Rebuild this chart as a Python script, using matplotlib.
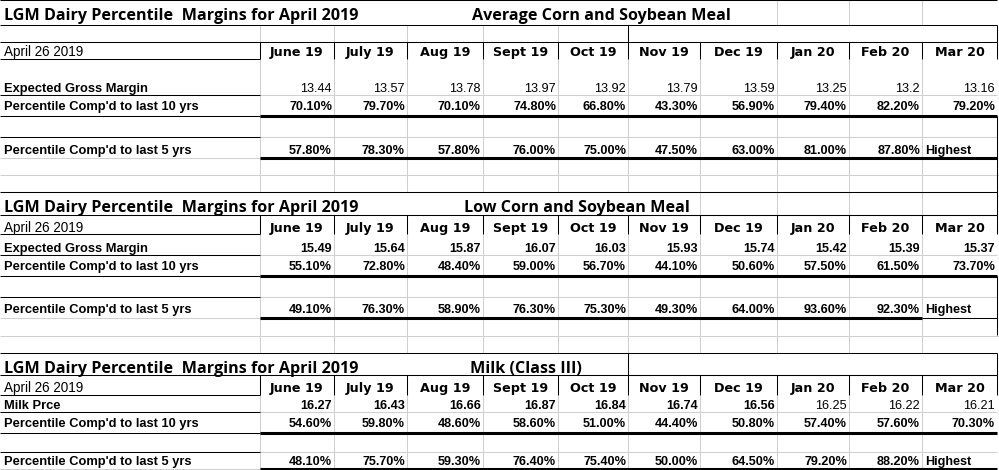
import matplotlib.pyplot as plt

# ---- table values ----
months = ['June 19', 'July 19', 'Aug 19', 'Sept 19', 'Oct 19',
          'Nov 19', 'Dec 19', 'Jan 20', 'Feb 20', 'Mar 20']

avg_margin = [13.44, 13.57, 13.78, 13.97, 13.92, 13.79, 13.59, 13.25, 13.2, 13.16]
avg_pct10 = [70.1, 79.7, 70.1, 74.8, 66.8, 43.3, 56.9, 79.4, 82.2, 79.2]
avg_pct5 = [57.8, 78.3, 57.8, 76.0, 75.0, 47.5, 63.0, 81.0, 87.8]

low_margin = [15.49, 15.64, 15.87, 16.07, 16.03, 15.93, 15.74, 15.42, 15.39, 15.37]
low_pct10 = [55.1, 72.8, 48.4, 59.0, 56.7, 44.1, 50.6, 57.5, 61.5, 73.7]
low_pct5 = [49.1, 76.3, 58.9, 76.3, 75.3, 49.3, 64.0, 93.6, 92.3]

milk_price = [16.27, 16.43, 16.66, 16.87, 16.84, 16.74, 16.56, 16.25, 16.22, 16.21]
milk_pct10 = [54.6, 59.8, 48.6, 58.6, 51.0, 44.4, 50.8, 57.4, 57.6, 70.3]
milk_pct5 = [48.1, 75.7, 59.3, 76.4, 75.4, 50.0, 64.5, 79.2, 88.2]

title = 'LGM Dairy Percentile  Margins for April 2019'
date_label = 'April 26 2019'
pct10_label = "Percentile Comp'd to last 10 yrs"
pct5_label = "Percentile Comp'd to last 5 yrs"
last_note = 'Highest'

# ---- sheet layout (pixels) ----
W, H = 999, 470
col_edges = [260, 334, 407, 483, 558, 628, 700, 777, 849, 922, 997]
GRID = '#d0d0d0'
THIN = 0.75
THICK = 2.2

blocks = [
    dict(sub='Average Corn and Soybean Meal', sub_x=472, row_label='Expected Gross Margin',
         margin=avg_margin, bold=[False] * 10, pct10=avg_pct10, pct5=avg_pct5,
         top=0, title_bot=25, head_top=42, head_bot=59, marg_bot=95, p10_bot=116,
         blank_bot=137, p5_bot=158, b_title=20, b_head=56, b_marg=92, b_p10=110, b_p5=154,
         box=(628, 25, 42), ul_from=0),
    dict(sub='Low Corn and Soybean Meal', sub_x=464, row_label='Expected Gross Margin',
         margin=low_margin, bold=[True] * 10, pct10=low_pct10, pct5=low_pct5,
         top=192, title_bot=215, head_top=215, head_bot=234, marg_bot=255, p10_bot=276,
         blank_bot=297, p5_bot=318, b_title=212, b_head=232, b_marg=252, b_p10=270, b_p5=313,
         box=None, ul_from=483),
    dict(sub='Milk (Class III)', sub_x=470, row_label='Milk Prce',
         margin=milk_price, bold=[True] * 7 + [False] * 3, pct10=milk_pct10, pct5=milk_pct5,
         top=353, title_bot=375, head_top=375, head_bot=395, marg_bot=412, p10_bot=433,
         blank_bot=452, p5_bot=469, b_title=373, b_head=392, b_marg=409, b_p10=427, b_p5=465,
         box=(628, 353, 375), ul_from=628),
]

fig = plt.figure(figsize=(W / 100, H / 100), dpi=100)
fig.patch.set_facecolor('white')
ax = fig.add_axes([0, 0, 1, 1])
ax.set_xlim(0, W)
ax.set_ylim(H, 0)
ax.axis('off')
renderer = fig.canvas.get_renderer()


def fit_size(text, width_px, **kw):
    t = ax.text(0, 0, text, fontsize=10, **kw)
    w = t.get_window_extent(renderer).width
    t.remove()
    return 10 * width_px / w


TITLE_FONT = dict(family='Open Sans', weight='bold')
LABEL_FONT = dict(family='Liberation Sans', weight='bold')
DATE_FONT = dict(family='Liberation Sans')
MONTH_FONT = dict(family='DejaVu Sans', weight='bold')
NUM_FONT = dict(family='Liberation Sans')

title_fs = fit_size(title, 355, **TITLE_FONT)
label_fs = fit_size(pct10_label, 196, **LABEL_FONT)
date_fs = fit_size(date_label, 80, **DATE_FONT)
month_fs = fit_size('June 19', 54, **MONTH_FONT)
num_fs = fit_size('70.10%', 43, weight='bold', **NUM_FONT)


def hline(y, x0, x1, color='black', lw=THIN):
    ax.plot([x0, x1], [y, y], color=color, lw=lw, solid_capstyle='butt', zorder=3 if color == 'black' else 1)


def vline(x, y0, y1, color='black', lw=THIN):
    ax.plot([x, x], [y0, y1], color=color, lw=lw, solid_capstyle='butt', zorder=3 if color == 'black' else 1)


# separator rows between the blocks
for y0, y1 in [(158, 192), (318, 353)]:
    for x in col_edges[:-1]:
        vline(x, y0, y1, GRID)
    hline((y0 + y1) / 2, 0, W, GRID)

for b in blocks:
    right = col_edges[-1]
    # light cell grid in the data area
    for x in col_edges[:-1]:
        vline(x, b['head_bot'], b['p5_bot'], GRID)
    for y in [b['marg_bot'], b['blank_bot']]:
        hline(y, col_edges[0], right, GRID)
    hline(b['p5_bot'], 0, col_edges[0], GRID)
    # grid left visible in the title rows
    if b['box'] is None:
        for x in col_edges[6:-1]:
            vline(x, b['top'], b['title_bot'], GRID)
    if b['top'] == 0:
        for x in col_edges[7:-1]:
            vline(x, b['top'], b['title_bot'], GRID)
        for x in col_edges[:5]:
            vline(x, b['title_bot'], b['head_top'], GRID)

    # black borders
    hline(b['top'], 0, right)
    hline(b['title_bot'], 0, b['ul_from'], GRID)
    hline(b['title_bot'], b['ul_from'], right)
    hline(b['head_top'], 0, right)
    if b['box'] is not None:
        bx, by0, by1 = b['box']
        vline(bx, by0, by1)
        vline(right, by0, by1)
    for x in col_edges:
        vline(x, b['head_top'], b['head_bot'])
    hline(b['head_bot'], 0, col_edges[0])
    hline(b['marg_bot'], 0, col_edges[0])
    hline(b['p10_bot'], 0, col_edges[0])
    hline(b['p10_bot'], col_edges[0], right, lw=THICK)
    hline(b['blank_bot'], 0, col_edges[0])
    if b['top'] == 192:
        hline(b['p5_bot'], col_edges[0], col_edges[-2], lw=THICK)
        hline(b['p5_bot'], col_edges[-2], right)
    else:
        hline(b['p5_bot'], col_edges[0], right, lw=THICK)

    # texts
    ax.text(4, b['b_title'], title, fontsize=title_fs, va='baseline', ha='left', **TITLE_FONT)
    ax.text(b['sub_x'], b['b_title'], b['sub'], fontsize=title_fs, va='baseline', ha='left', **TITLE_FONT)
    ax.text(4, b['b_head'], date_label, fontsize=date_fs, va='baseline', **DATE_FONT)
    ax.text(4, b['b_marg'], b['row_label'], fontsize=label_fs, va='baseline', **LABEL_FONT)
    ax.text(4, b['b_p10'], pct10_label, fontsize=label_fs, va='baseline', **LABEL_FONT)
    ax.text(4, b['b_p5'], pct5_label, fontsize=label_fs, va='baseline', **LABEL_FONT)

    for i, m in enumerate(months):
        x0, x1 = col_edges[i], col_edges[i + 1]
        ax.text((x0 + x1) / 2, b['b_head'], m, fontsize=month_fs, ha='center', va='baseline', **MONTH_FONT)
        ax.text(x1 - 2, b['b_marg'], f"{b['margin'][i]:g}", fontsize=num_fs, ha='right', va='baseline',
                weight='bold' if b['bold'][i] else 'normal', **NUM_FONT)
        ax.text(x1 - 2, b['b_p10'], f"{b['pct10'][i]:.2f}%", fontsize=num_fs, ha='right', va='baseline',
                weight='bold', **NUM_FONT)
        if i < len(b['pct5']):
            ax.text(x1 - 2, b['b_p5'], f"{b['pct5'][i]:.2f}%", fontsize=num_fs, ha='right', va='baseline',
                    weight='bold', **NUM_FONT)
        else:
            ax.text(x0 + 3, b['b_p5'], last_note, fontsize=num_fs, ha='left', va='baseline',
                    weight='bold', **NUM_FONT)

# right sheet border running between the blocks
vline(col_edges[-1], 116, 215)
vline(col_edges[-1], 276, 335)

fig.savefig('out.png', dpi=100, facecolor='white')
